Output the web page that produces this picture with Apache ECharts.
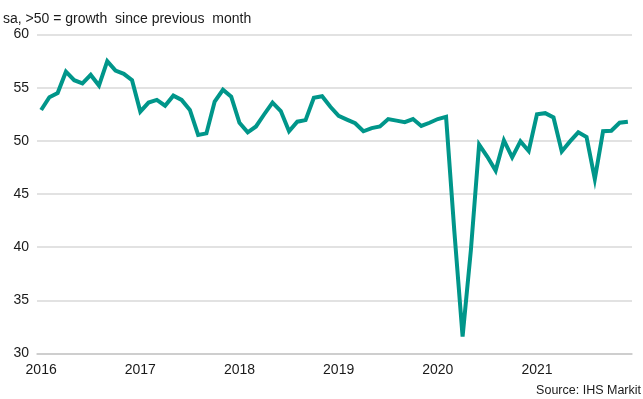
<!DOCTYPE html>
<html>
<head>
<meta charset="utf-8">
<style>
  html, body { margin: 0; padding: 0; background: #ffffff; }
  #chart { width: 643px; height: 399px; }
</style>
<script src="https://cdn.jsdelivr.net/npm/echarts@6/dist/echarts.min.js"></script>
</head>
<body>
<div id="chart"></div>
<script>
// Monthly categories, January 2016 to December 2021
const years = [2016, 2017, 2018, 2019, 2020, 2021];
const months = [];
years.forEach(function (y) {
  for (let m = 1; m <= 12; m++) months.push(y + '-' + (m < 10 ? '0' + m : m));
});

// Index readings, seasonally adjusted (>50 = growth since previous month)
const index2016 = [52.9, 54.1, 54.5, 56.5, 55.7, 55.4, 56.2, 55.2, 57.5, 56.6, 56.3, 55.7];
const index2017 = [52.75, 53.6, 53.85, 53.3, 54.25, 53.85, 52.9, 50.55, 50.7, 53.7, 54.8, 54.15];
const index2018 = [51.7, 50.8, 51.35, 52.5, 53.6, 52.8, 50.9, 51.8, 51.95, 54.05, 54.2, 53.2];
const index2019 = [52.35, 52.0, 51.65, 50.9, 51.2, 51.35, 52.05, 51.9, 51.75, 52.05, 51.4, 51.7];
const index2020 = [52.05, 52.25, 41.5, 31.6, 39.7, 49.65, 48.5, 47.2, 50.05, 48.45, 49.95, 49.05];
const index2021 = [52.5, 52.6, 52.2, 49.0, 49.95, 50.8, 50.35, 46.4, 50.9, 50.95, 51.7, 51.8];
const indexValues = [].concat(index2016, index2017, index2018, index2019, index2020, index2021);

const subtitleText = 'sa, >50 = growth  since previous  month';
const sourceText = 'Source: IHS Markit';

const chart = echarts.init(document.getElementById('chart'), null, { renderer: 'canvas' });
const textFont = 'Liberation Sans, Arial, sans-serif';

chart.setOption({
  animation: false,
  backgroundColor: '#ffffff',
  grid: { left: 37, right: 11, top: 34.5, bottom: 45.5, containLabel: false },
  graphic: [
    {
      type: 'text', left: 3, top: 12,
      style: { text: subtitleText, font: '14px ' + textFont, fill: '#1a1a1a' }
    },
    {
      type: 'text', right: 2, top: 384,
      style: { text: sourceText, font: '12.5px ' + textFont, fill: '#1a1a1a' }
    }
  ],
  xAxis: {
    type: 'category',
    data: months,
    boundaryGap: true,
    axisLine: { show: true, lineStyle: { color: '#c8c8c8', width: 1.5 } },
    axisTick: { show: false },
    axisLabel: {
      interval: function (idx) { return idx % 12 === 0; },
      formatter: function (v) { return v.slice(0, 4); },
      color: '#1a1a1a', fontSize: 14, fontFamily: textFont, margin: 10
    },
    splitLine: { show: false }
  },
  yAxis: {
    type: 'value',
    min: 30, max: 60, interval: 5,
    axisLine: { show: false },
    axisTick: { show: false },
    axisLabel: { color: '#1a1a1a', fontSize: 14, fontFamily: textFont, margin: 8 },
    splitLine: { show: true, lineStyle: { color: '#d9d9d9', width: 1.5 } }
  },
  series: [{
    type: 'line',
    data: indexValues,
    showSymbol: false,
    symbol: 'none',
    lineStyle: { color: '#00968a', width: 4, join: 'miter' },
    itemStyle: { color: '#00968a' }
  }]
});
</script>
</body>
</html>
